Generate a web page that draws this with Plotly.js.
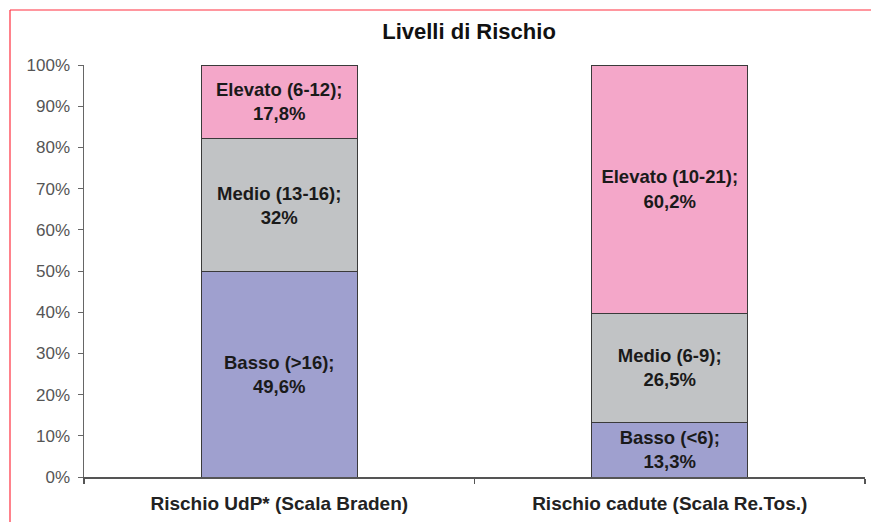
<!DOCTYPE html>
<html>
<head>
<meta charset="utf-8">
<script src="https://cdn.plot.ly/plotly-3.0.1.min.js"></script>
<style>html,body{margin:0;padding:0;background:#fff;}#chart{width:871px;height:522px;}</style>
</head>
<body>
<div id="chart"></div>
<script>
const categories = ['Rischio UdP* (Scala Braden)', 'Rischio cadute (Scala Re.Tos.)'];
const levelNames = ['Basso', 'Medio', 'Elevato'];
const bassoRanges = ['>16', '<6'];
const medioRanges = ['13-16', '6-9'];
const elevatoRanges = ['6-12', '10-21'];
const bassoValues = [49.6, 13.3];
const medioValues = [32, 26.5];
const elevatoValues = [17.8, 60.2];
const yTickVals = [0, 10, 20, 30, 40, 50, 60, 70, 80, 90, 100];
const yTickLabels = ['0%', '10%', '20%', '30%', '40%', '50%', '60%', '70%', '80%', '90%', '100%'];
const colors = ['#9FA0CF', '#C1C3C5', '#F4A7C9'];

function fmt(v) { return String(v).replace('.', ',') + '%'; }
function labels(name, ranges, values) {
  return values.map((v, i) => name + ' (' + ranges[i] + ');<br>' + fmt(v));
}
const series = [
  [bassoValues, bassoRanges],
  [medioValues, medioRanges],
  [elevatoValues, elevatoRanges]
];
const FONT = 'Arial, "Liberation Sans", sans-serif';
const traces = series.map((s, k) => ({
  type: 'bar',
  name: levelNames[k],
  x: categories,
  y: s[0],
  text: labels(levelNames[k], s[1], s[0]),
  textposition: 'inside',
  insidetextanchor: 'middle',
  constraintext: 'none',
  textangle: 0,
  textfont: {family: FONT, size: 18.5, color: '#1a1a1a', weight: 'bold'},
  hoverinfo: 'none',
  marker: {color: colors[k], line: {color: '#3a3a3a', width: 1}}
}));

const layout = {
  width: 871, height: 522,
  margin: {l: 84, r: 6, t: 65, b: 45},
  paper_bgcolor: '#fff', plot_bgcolor: '#fff',
  barmode: 'stack', barnorm: 'percent', bargap: 0.6,
  showlegend: false,
  title: {text: 'Livelli di Rischio', font: {family: FONT, size: 22, color: '#111', weight: 'bold'},
          xref: 'paper', x: 0.493, xanchor: 'center', yref: 'container', y: 1 - 31/522, yanchor: 'middle'},
  xaxis: {type: 'category', range: [-0.5, 1.5], showline: true, linecolor: '#555', linewidth: 2,
          ticks: 'outside', tickson: 'boundaries', ticklen: 5, tickcolor: '#555', tickwidth: 1.5,
          showgrid: false, zeroline: false, ticklabelstandoff: 8,
          tickfont: {family: FONT, size: 19, color: '#222', weight: 'bold'}},
  yaxis: {range: [0, 100], tickvals: yTickVals, ticktext: yTickLabels, showline: true, linecolor: '#666', linewidth: 1.5,
          ticks: 'outside', ticklen: 5, tickcolor: '#666', showgrid: false, zeroline: false, ticklabelstandoff: 4,
          tickfont: {family: FONT, size: 17, color: '#555'}},
  shapes: [
    {type: 'line', xref: 'paper', yref: 'paper', x0: (10-84)/781, x1: (875-84)/781, y0: (477-10)/412, y1: (477-10)/412,
     line: {color: '#FF2E3E', width: 1.2}},
    {type: 'line', xref: 'paper', yref: 'paper', x0: (10-84)/781, x1: (10-84)/781, y0: (477-10)/412, y1: (477-530)/412,
     line: {color: '#FF2E3E', width: 1.2}}
  ]
};
Plotly.newPlot('chart', traces, layout, {displayModeBar: false, staticPlot: true});
</script>
</body>
</html>
